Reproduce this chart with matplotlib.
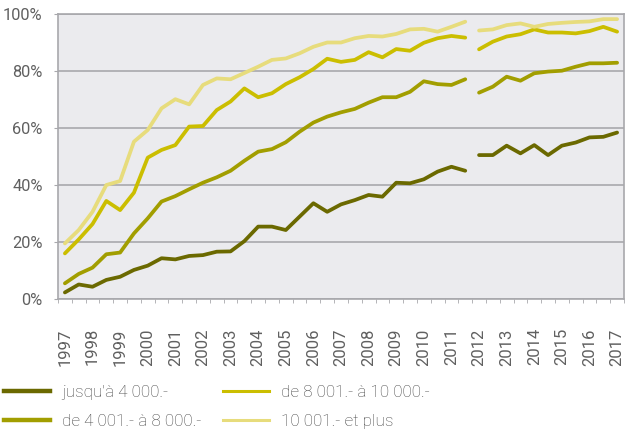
import matplotlib
matplotlib.use("Agg")
import matplotlib.pyplot as plt
from matplotlib.lines import Line2D
import numpy as np

plt.rcParams['font.family'] = ['Roboto', 'DejaVu Sans']

years = list(range(1997, 2018))
# half-year observations, 1997 H1 ... 2017 H1
s1 = [2.3, 5.1, 4.3, 6.7, 7.8, 10.2, 11.7, 14.3, 13.9, 15.1, 15.4, 16.6, 16.7, 20.3,
      25.4, 25.4, 24.2, 28.9, 33.6, 30.6, 33.2, 34.7, 36.5, 35.9, 40.8, 40.6, 42.0,
      44.7, 46.4, 45.0, 50.5, 50.5, 53.8, 51.1, 54.0, 50.5, 53.8, 54.9, 56.7, 56.9, 58.4]
s2 = [5.5, 8.8, 11.0, 15.7, 16.3, 23.0, 28.3, 34.2, 36.1, 38.5, 40.8, 42.7, 45.0, 48.5,
      51.7, 52.6, 55.0, 58.7, 61.9, 64.0, 65.5, 66.7, 68.9, 70.8, 70.8, 72.7, 76.4,
      75.4, 75.1, 77.1, 72.4, 74.5, 78.0, 76.6, 79.2, 79.8, 80.1, 81.5, 82.7, 82.7, 82.9]
s3 = [16.0, 20.9, 26.3, 34.4, 31.2, 37.3, 49.6, 52.3, 54.0, 60.5, 60.7, 66.3, 69.3, 73.9,
      70.8, 72.2, 75.4, 77.8, 80.7, 84.3, 83.2, 83.9, 86.6, 84.8, 87.7, 87.1, 89.9,
      91.5, 92.3, 91.7, 87.6, 90.3, 92.1, 92.9, 94.6, 93.5, 93.5, 93.2, 94.0, 95.5, 93.8]
s4 = [19.5, 24.2, 30.6, 40.0, 41.4, 55.2, 59.3, 66.9, 70.1, 68.3, 75.1, 77.4, 77.1, 79.3,
      81.5, 83.9, 84.4, 86.2, 88.5, 90.0, 90.0, 91.5, 92.3, 92.1, 93.0, 94.6, 94.8,
      93.8, 95.5, 97.3, 94.2, 94.6, 96.1, 96.7, 95.5, 96.5, 96.9, 97.2, 97.4, 98.2, 98.2]
labels = ["jusqu'à 4 000.-", "de 4 001.- à 8 000.-", "de 8 001.- à 10 000.-", "10 001.- et plus"]
series = [s1, s2, s3, s4]
colors = ["#6b6900", "#a29e00", "#cbbe00", "#e7dc7c"]
break_at = 30  # series break between 2011 H2 and 2012 H1

fig = plt.figure(figsize=(6.25, 4.33), dpi=100)
ax = fig.add_axes([58/625, 1-299/433, (624-58)/625, (299-14)/433])
ax.set_facecolor("#ebebee")

x = np.arange(len(s1))
for s, c in zip(series, colors):
    s = np.array(s)
    ax.plot(x[:break_at], s[:break_at], color=c, lw=2.7, solid_capstyle='round', solid_joinstyle='round', zorder=3)
    ax.plot(x[break_at:], s[break_at:], color=c, lw=2.7, solid_capstyle='round', solid_joinstyle='round', zorder=3)

ax.set_xlim(-0.5, len(s1) - 0.5)
ax.set_ylim(0, 100)
ax.set_yticks([0, 20, 40, 60, 80, 100])
ax.set_yticklabels([f"{v}%" for v in [0, 20, 40, 60, 80, 100]])
ax.yaxis.grid(True, color="#a8a8ac", lw=1.2)
ax.set_axisbelow(True)

ax.set_xticks(np.arange(0, len(s1), 2))
ax.set_xticklabels([str(y) for y in years], rotation=90, va='top', ha='center')
ax.set_xticks(np.arange(-0.5, len(s1), 1.0), minor=True)
ax.tick_params(axis='x', which='minor', length=3, color="#a8a8ac")
ax.tick_params(axis='x', which='major', length=0, pad=21, labelsize=12, labelcolor="#606060")
ax.tick_params(axis='y', length=3, color="#a8a8ac", pad=8, labelsize=11.8, labelcolor="#606060")
for sp in ax.spines.values():
    sp.set_color("#a8a8ac")
    sp.set_linewidth(1.2)

handles = [Line2D([], [], color=colors[0], lw=3.2),
           Line2D([], [], color=colors[1], lw=3.2),
           Line2D([], [], color=colors[2], lw=2.2),
           Line2D([], [], color=colors[3], lw=2.2)]
leg = fig.legend(handles, labels, loc='upper left', bbox_to_anchor=(4/625, 1-385/433),
                 ncol=2, frameon=False, handlelength=2.7, handletextpad=0.7,
                 columnspacing=1.25, labelspacing=0.8, borderpad=0, borderaxespad=0,
                 prop={'weight': 'light', 'size': 12.3})
for t in leg.get_texts():
    t.set_color("#444444")

fig.savefig("out.png", dpi=100)
